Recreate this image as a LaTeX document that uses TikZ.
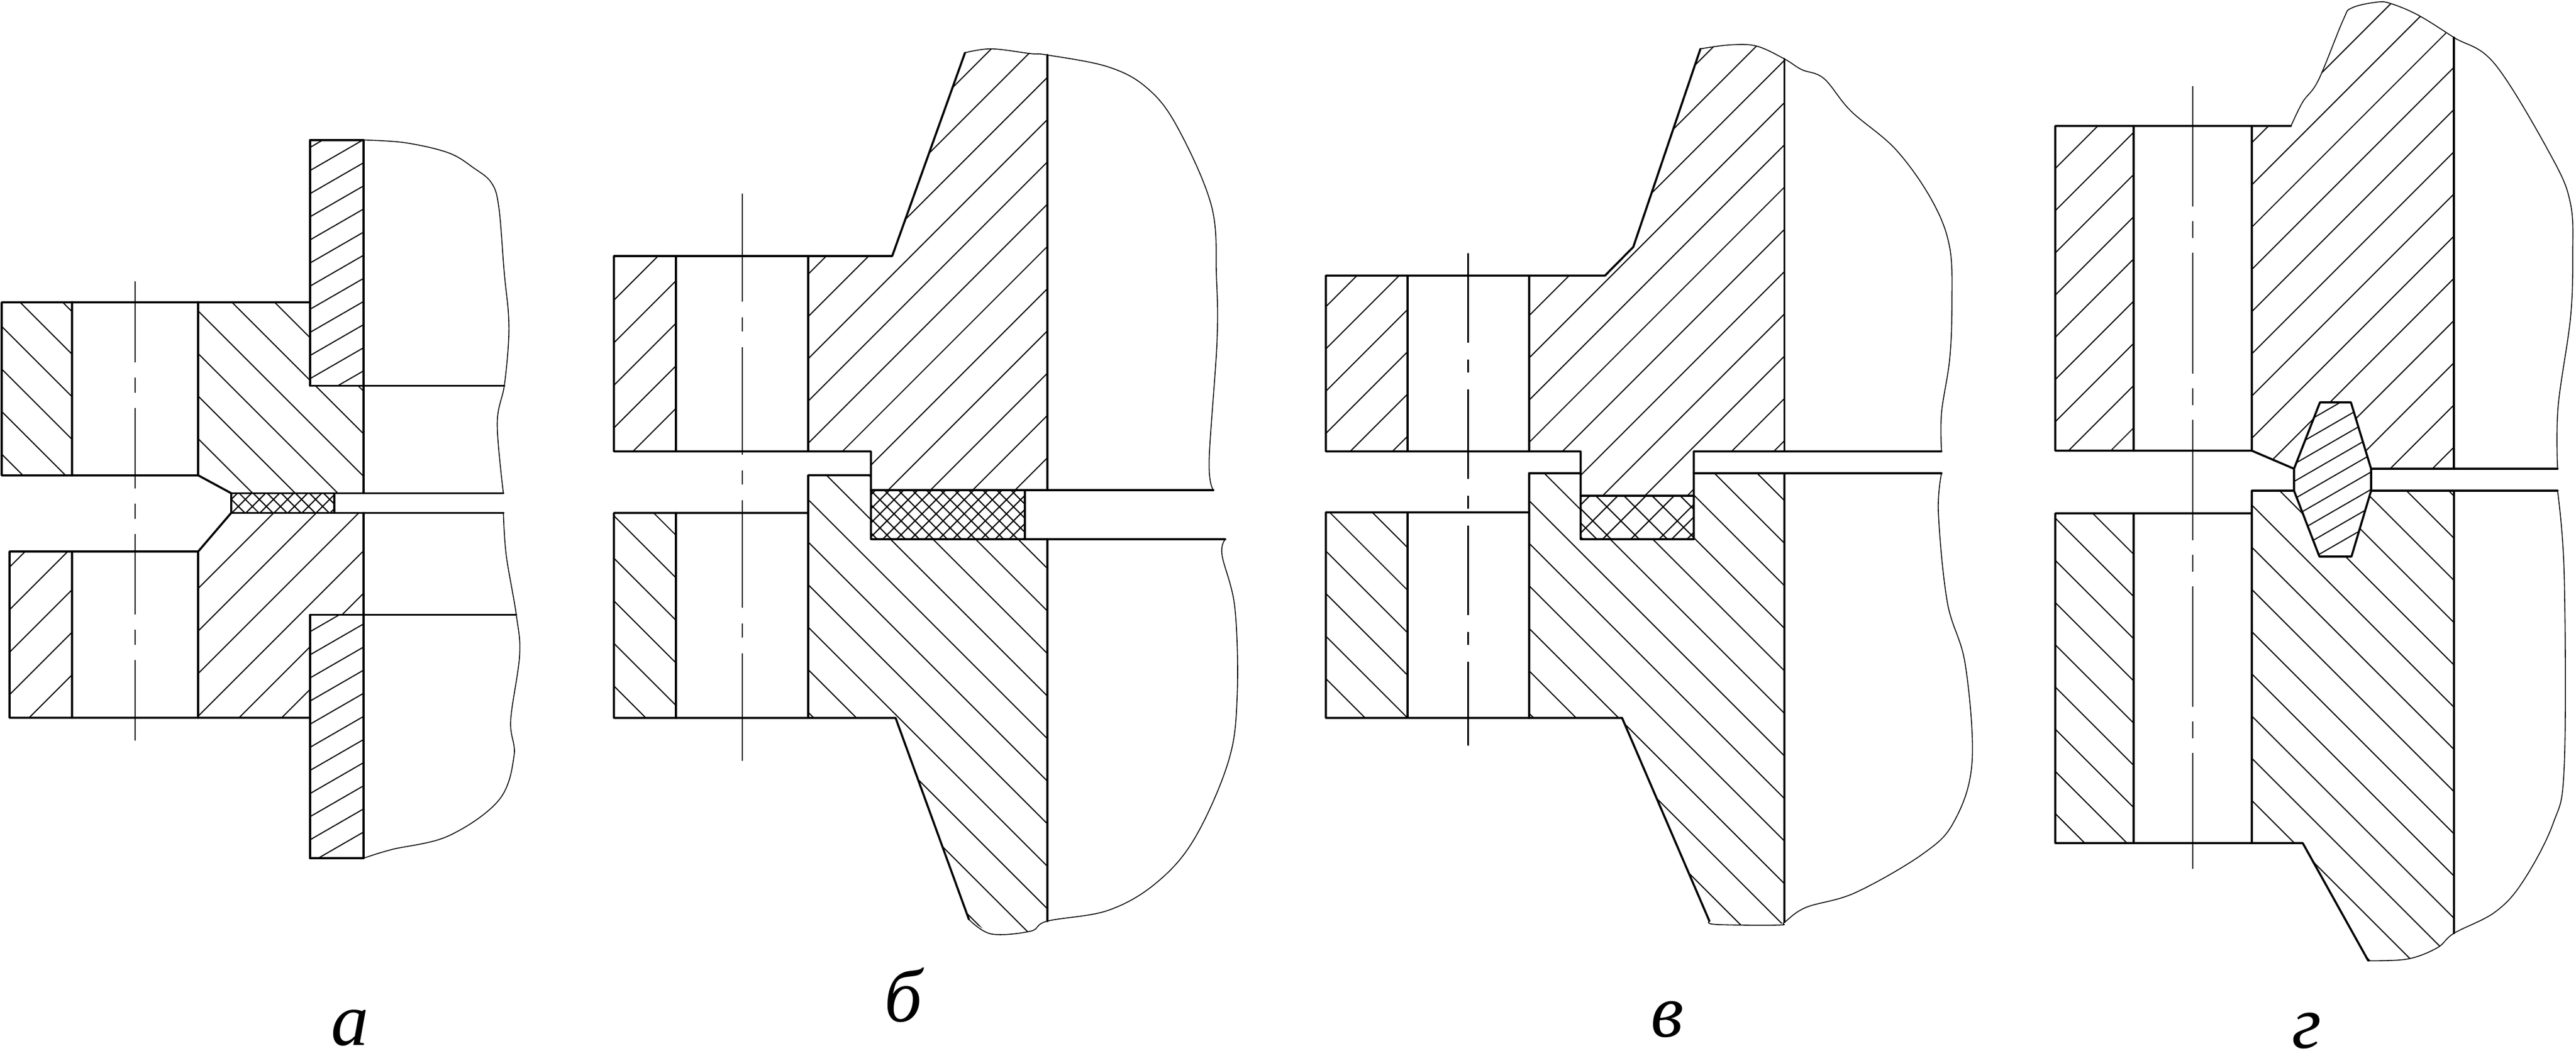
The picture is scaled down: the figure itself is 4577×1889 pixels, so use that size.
\documentclass[tikz,border=0pt]{standalone}
\usepackage{fontspec}
\setmainfont{Liberation Serif}
\tikzset{
  panel/.style={shift={(#1)},scale=0.9949},
  contour/.style={line width=1.05pt,line cap=round,line join=round},
  hatchline/.style={line width=0.55pt},
  gasketline/.style={line width=0.6pt},
  breakline/.style={line width=0.45pt,smooth,tension=0.6},
  axisline/.style={line width=0.6pt},
  panellabel/.style={anchor=base,inner sep=0pt,font=\fontsize{38}{38}\selectfont\itshape}
}
\newcommand{\hatchzone}[6][hatchline]{%
  \begin{scope}
    \clip #2;
    \foreach \lvl in {#6}
      \draw[#1] ({#4},{\lvl+(#3)*(#4)}) -- ({#5},{\lvl+(#3)*(#5)});
  \end{scope}}
\begin{document}
\begin{tikzpicture}[x=0.01cm,y=-0.01cm]
\useasboundingbox (0,0) rectangle (4577,1889);
% a
\begin{scope}[panel={0,1.02}]
\hatchzone{(3,539) rectangle (129,848)}{1}{0}{140}{427,503,...,810}
\hatchzone{(354,539)--(554,539)--(554,688)--(649,688)--(649,880)--(413,880)--(354,848)--cycle}{1}{340}{660}{48.6,124.6,...,430}
\hatchzone{(554,249) rectangle (649,688)}{-0.5774}{540}{660}{582,623.3,...,1060}
\hatchzone{(17,984) rectangle (129,1281)}{-1}{0}{140}{1029,1105,...,1340}
\hatchzone{(354,984)--(413,915)--(649,915)--(649,1097)--(554,1097)--(554,1281)--(354,1281)--cycle}{-1}{340}{660}{1404,1480,...,1790}
\hatchzone{(554,1097) rectangle (649,1532)}{-0.5774}{540}{660}{1447,1488.3,...,1900}
\hatchzone[gasketline]{(413,880) rectangle (597,915)}{-1}{400}{610}{1304,1329.1,...,1512}
\hatchzone[gasketline]{(413,880) rectangle (597,915)}{1}{400}{610}{302.2,327.3,...,502}
\draw[contour] (3,539)--(554,539) (3,539)--(3,848)--(354,848)--(413,880)--(413,915)--(354,984)--(17,984)--(17,1281)--(554,1281);
\draw[contour] (129,539)--(129,848) (354,539)--(354,848) (129,984)--(129,1281) (354,984)--(354,1281);
\draw[contour] (554,688)--(554,249)--(649,249)--(649,880) (554,688)--(900.6,688);
\draw[contour] (413,880)--(899,880) (413,915)--(899,915) (597,880)--(597,915);
\draw[contour] (554,1532)--(554,1097)--(922,1097) (554,1532)--(649,1532)--(649,915);
\draw[breakline] plot coordinates {(649,249)(724,254)(801,272)(846,299)(878,326)(891,370.5)(900.6,487)(908,559)(908,613)(900.6,688)(888,756)(899,880)};
\draw[breakline] plot coordinates {(899,915)(904,990)(922,1097)(928,1169)(912,1286)(918,1349)(891,1428)(801,1492)(699,1516.5)(649,1532)};
\draw[axisline,dash pattern=on 1.43cm off .27cm on .27cm off .27cm] (241,502)--(241,1324);
\end{scope}
\node[panellabel] (labela) at (622,1857) {а};
% b
\begin{scope}[panel={5.36,0.255}]
\hatchzone{(1091,457) rectangle (1201.5,806)}{-1}{1080}{1210}{1551,1627,...,2010}
\hatchzone{(1438,457)--(1588,457)--(1718,94)--(1765,87)--(1865,98)--(1865,875)--(1550,875)--(1550,806)--(1438,806)--cycle}{-1}{1430}{1870}{1852,1927.5,...,2700}
\hatchzone{(1091,916) rectangle (1201.5,1282)}{1}{1080}{1210}{-246,-170,...,140}
\hatchzone{(1438,848.5)--(1550,848.5)--(1550,963)--(1865,963)--(1865,1645)--(1835,1663)--(1765,1668)--(1725,1642)--(1594,1282)--(1438,1282)--cycle}{1}{1430}{1870}{-850,-774,...,-85}
\hatchzone[gasketline]{(1550,875) rectangle (1825,963)}{-1}{1540}{1835}{2433.4,2458.5,...,2790}
\hatchzone[gasketline]{(1550,875) rectangle (1825,963)}{1}{1540}{1835}{-949.7,-924.6,...,-585}
\draw[contour] (1091,806)--(1091,457)--(1588,457)--(1718,94) (1091,806)--(1550,806)--(1550,963)--(2183,963);
\draw[contour] (1550,875)--(2161.5,875) (1825,875)--(1825,963);
\draw[contour] (1201.5,457)--(1201.5,806) (1438,457)--(1438,806) (1865,98)--(1865,875);
\draw[contour] (1550,848.5)--(1438,848.5)--(1438,1282) (1438,916)--(1091,916)--(1091,1282)--(1594,1282)--(1725,1642);
\draw[contour] (1201.5,916)--(1201.5,1282) (1865,963)--(1865,1645);
\draw[breakline] plot coordinates {(1718,94)(1765,87)(1835,95.5)(1865,98)(1973,119)(2042,156)(2096,224.5)(2158,367)(2167,494)(2168,610.5)(2154,822)(2161.5,875)};
\draw[breakline] plot coordinates {(2183,963)(2177,991)(2200,1086)(2204,1245)(2188,1361)(2127,1499)(2058,1578)(1973,1626)(1865,1645)(1835,1663)(1765,1668)(1725,1642)};
\draw[axisline,dash pattern=on 1.91cm off .28cm on .25cm off .28cm] (1320,346)--(1320,1361);
\end{scope}
\node[panellabel] (labelb) at (1605,1815) {б};
% v
\begin{scope}[panel={11.73,0.255}]
\hatchzone{(2356,492) rectangle (2502,806)}{-1}{2340}{2510}{2903.5,2979,...,3290}
\hatchzone{(2719,492)--(2854.5,492)--(2905,441)--(3025,87)--(3077,80)--(3125,82)--(3175,105)--(3175,806)--(3013,806)--(3013,885.5)--(2811,885.5)--(2811,806)--(2719,806)--cycle}{-1}{2710}{3180}{3131.5,3207,...,3970}
\hatchzone{(2356,915) rectangle (2502,1282)}{1}{2340}{2510}{-1524,-1448,...,-1140}
\hatchzone{(2719,845)--(2811,845)--(2811,963)--(3013,963)--(3013,845)--(3175,845)--(3175,1647)--(3165,1652)--(3053,1651)--(3041,1645)--(2885,1282)--(2719,1282)--cycle}{1}{2710}{3180}{-2281,-2205,...,-1440}
\hatchzone[gasketline]{(2811,885.5) rectangle (3013,963)}{-1}{2800}{3020}{3712.6,3762.9,3813.1,3863.4,3913.7,3936.4,3963.9}
\hatchzone[gasketline]{(2811,885.5) rectangle (3013,963)}{1}{2800}{3020}{-2103.6,-2053.3,-2003.1,-1952.8,-1902.5,-1877.1,-1852.3}
\draw[contour] (2356,806)--(2356,492)--(2854.5,492)--(2905,441)--(3025,87) (2356,806)--(2811,806)--(2811,963)--(3013,963)--(3013,806)--(3455.5,806);
\draw[contour] (2811,885.5)--(3013,885.5) (2502,492)--(2502,806) (2719,492)--(2719,806) (3175,105)--(3175,806);
\draw[contour] (2811,845)--(2719,845)--(2719,1282) (3013,845)--(3455.5,845);
\draw[contour] (2719,915)--(2356,915)--(2356,1282)--(2885,1282)--(3041,1645) (2502,915)--(2502,1282) (3175,845)--(3175,1647);
\draw[breakline] plot coordinates {(3025,87)(3077,80)(3125,82)(3175,105)(3205.5,124)(3245.5,140)(3293.6,198)(3374,267)(3438,357)(3470,441)(3474,547)(3470,642)(3455.5,737.5)(3455.5,806)};
\draw[breakline] plot coordinates {(3455.5,845)(3450,917)(3466,1076)(3498,1187)(3510,1361.5)(3478,1467)(3422,1525)(3302,1594)(3213.5,1620.5)(3175,1647)(3165,1652)(3053,1651)(3041,1645)};
\draw[axisline,dash pattern=on 1.59cm off .3cm on .23cm off .3cm] (2610,452)--(2610,1332);
\end{scope}
\node[panellabel] (labelv) at (2962,1842) {в};
% g
\begin{scope}[panel={18.36,0}]
\hatchzone{(3652,225) rectangle (3792,805)}{-1}{3640}{3800}{3953,4028.4,...,4560}
\hatchzone{(4003,225)--(4073,225)--(4094,182)--(4122,143)--(4166,36)--(4181,14.5)--(4225,4)--(4250,6)--(4300,27)--(4364,67)--(4364,837.3)--(4078.4,837.3)--(4003,805)--cycle}{-1}{3990}{4370}{4257.9,4333.3,...,5170}
\hatchzone{(3652,917) rectangle (3792,1506)}{1}{3640}{3800}{-2802,-2726.6,...,-2190}
\hatchzone{(4003,876.5)--(4364,876.5)--(4364,1667)--(4334,1693)--(4281,1713)--(4211,1716)--(4094,1506)--(4003,1506)--cycle}{1}{3990}{4370}{-3478,-3402.6,...,-2490}
\fill[white] (4078.4,837.3)--(4124.7,718.7)--(4180,718.7)--(4216,837.3)--(4216,876.5)--(4181,994)--(4123.7,994)--(4078.4,876.5)--cycle;
\hatchzone{(4078.4,837.3)--(4124.7,718.7)--(4180,718.7)--(4216,837.3)--(4216,876.5)--(4181,994)--(4123.7,994)--(4078.4,876.5)--cycle}{-0.5774}{4060}{4230}{3121.3,3152.5,...,3400}
\draw[contour] (3652,805)--(3652,225)--(4073,225) (3652,805)--(4003,805)--(4078.4,837.3);
\draw[contour] (3792,225)--(3792,805) (4003,225)--(4003,805) (4364,67)--(4364,837.3);
\draw[contour] (4078.4,837.3)--(4124.7,718.7)--(4180,718.7)--(4216,837.3)--(4216,876.5)--(4181,994)--(4123.7,994)--(4078.4,876.5)--cycle;
\draw[contour] (4216,837.3)--(4549,837.3) (4216,876.5)--(4549,876.5) (4078.4,876.5)--(4003,876.5)--(4003,1506);
\draw[contour] (4003,917)--(3652,917)--(3652,1506)--(4094,1506)--(4211,1716) (3792,917)--(3792,1506) (4364,876.5)--(4364,1667);
\draw[breakline] plot coordinates {(4073,225)(4094,182)(4122,143)(4166,36)(4181,14.5)(4225,4)(4250,6)(4300,27)(4364,67)(4437.5,115)(4537.5,278.5)(4572,363)(4576,460)(4572,569)(4550,726.5)(4549,837.3)};
\draw[breakline] plot coordinates {(4549,876.5)(4561,1029)(4561,1368)(4541,1471)(4487.5,1574)(4437.5,1629)(4364,1667)(4334,1693)(4281,1713)(4211,1716)};
\draw[axisline,dash pattern=on 2.14cm off .26cm on .3cm off .26cm] (3897.5,154)--(3897.5,1552);
\end{scope}
\node[panellabel] (labelg) at (4099,1862) {г};
\end{tikzpicture}
\end{document}
